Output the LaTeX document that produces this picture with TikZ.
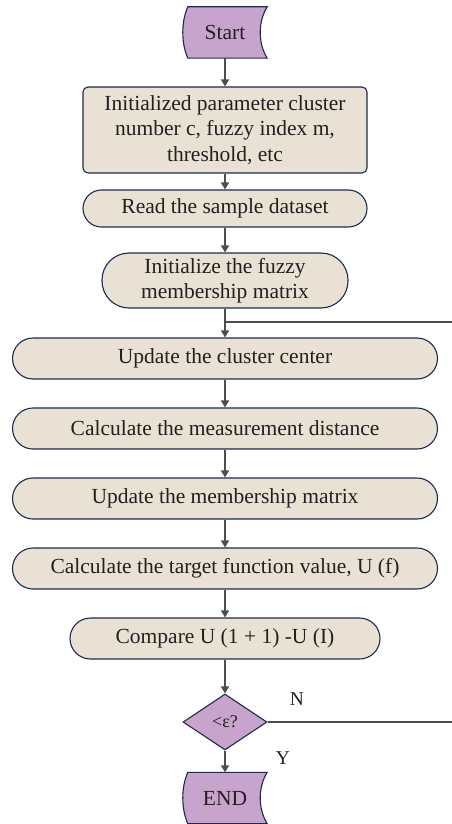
\documentclass[tikz,border=0pt]{standalone}
\usepackage{fontspec}
\setmainfont{Liberation Serif}
\usetikzlibrary{shapes.geometric,arrows.meta,backgrounds}
\definecolor{purp}{HTML}{C8A3CC}
\definecolor{beige}{HTML}{E8E1D4}
\definecolor{navy}{HTML}{1C2A4C}
\definecolor{txt}{HTML}{231F20}
\definecolor{arr}{HTML}{4D4D4D}
\tikzset{
  base/.style={inner sep=0pt, text=txt, font=\fontsize{21.5}{25.5}\selectfont, align=center},
  termnode/.style={base, minimum width=84pt, minimum height=51pt},
  termdraw/.style={draw=navy, fill=purp, line width=1.1pt},
  procbox/.style={base, draw=navy, fill=beige, line width=1.1pt},
  stadium/.style={procbox, rounded corners=#1},
  decision/.style={base, shape=diamond, draw=navy, fill=purp, line width=1.1pt,
     minimum width=84pt, minimum height=56pt, aspect=1.5, font=\fontsize{18}{21}\selectfont},
  flow/.style={draw=arr, line width=1.4pt, -{Triangle[width=8pt,length=7pt]}},
  plain/.style={draw=arr, line width=1.4pt},
  lbl/.style={text=txt, font=\fontsize{19.5}{22}\selectfont, inner sep=0pt}
}
\newcommand{\termshape}[1]{%
  \draw[termdraw] ([xshift=5pt]#1.north west) -- (#1.north east)
    .. controls ([xshift=-9.3pt,yshift=-15pt]#1.north east) and ([xshift=-9.3pt,yshift=15pt]#1.south east) .. (#1.south east)
    -- ([xshift=5pt]#1.south west)
    .. controls ([xshift=-1.7pt,yshift=15pt]#1.south west) and ([xshift=-1.7pt,yshift=-15pt]#1.north west) .. ([xshift=5pt]#1.north west)
    -- cycle;}
\begin{document}
\begin{tikzpicture}[x=1pt,y=-1pt]
\useasboundingbox (0,0) rectangle (451,824);
\node[termnode] (start) at (225,32.5) {Start};
\node[procbox, rounded corners=5pt, minimum width=284pt, minimum height=86pt] (init1) at (225,130)
  {Initialized parameter cluster\\number c, fuzzy index m,\\threshold, etc};
\node[stadium=18.5pt, minimum width=284pt, minimum height=37pt] (read) at (225,208.5) {Read the sample dataset};
\node[stadium=27pt, minimum width=246pt, minimum height=55pt] (fuzzy) at (225,280.5) {Initialize the fuzzy\\membership matrix};
\node[stadium=20.5pt, minimum width=425pt, minimum height=41pt] (update) at (225,358.5) {Update the cluster center};
\node[stadium=20.5pt, minimum width=425pt, minimum height=41pt] (dist) at (225,428.5) {Calculate the measurement distance};
\node[stadium=20.5pt, minimum width=425pt, minimum height=41pt] (memb) at (225,498.5) {Update the membership matrix};
\node[stadium=20.5pt, minimum width=425pt, minimum height=41pt] (target) at (225,568.5) {Calculate the target function value, U (f)};
\node[stadium=20.5pt, minimum width=310pt, minimum height=41pt] (comp) at (225,638.5) {Compare U (1 + 1) -U (I)};
\node[decision] (dia) at (225,722) {<ε?};
\node[termnode] (end) at (225,798) {END};
\begin{scope}[on background layer]
\termshape{start}
\termshape{end}
\end{scope}
\coordinate (join) at (225,322);
\coordinate (rbot) at (456,722);
\coordinate (rtop) at (456,322);
\draw[flow] (start) -- (init1);
\draw[flow] (init1) -- (read);
\draw[flow] (read) -- (fuzzy);
\draw[flow] (fuzzy) -- (update);
\draw[flow] (update) -- (dist);
\draw[flow] (dist) -- (memb);
\draw[flow] (memb) -- (target);
\draw[flow] (target) -- (comp);
\draw[flow] (comp) -- (dia);
\draw[flow] (dia) -- (end);
\draw[plain] (dia.east) -- (rbot) -- (rtop) -- (join);
\node[lbl] (nlab) at (297,699) {N};
\node[lbl] (ylab) at (283,758) {Y};
\end{tikzpicture}
\end{document}
